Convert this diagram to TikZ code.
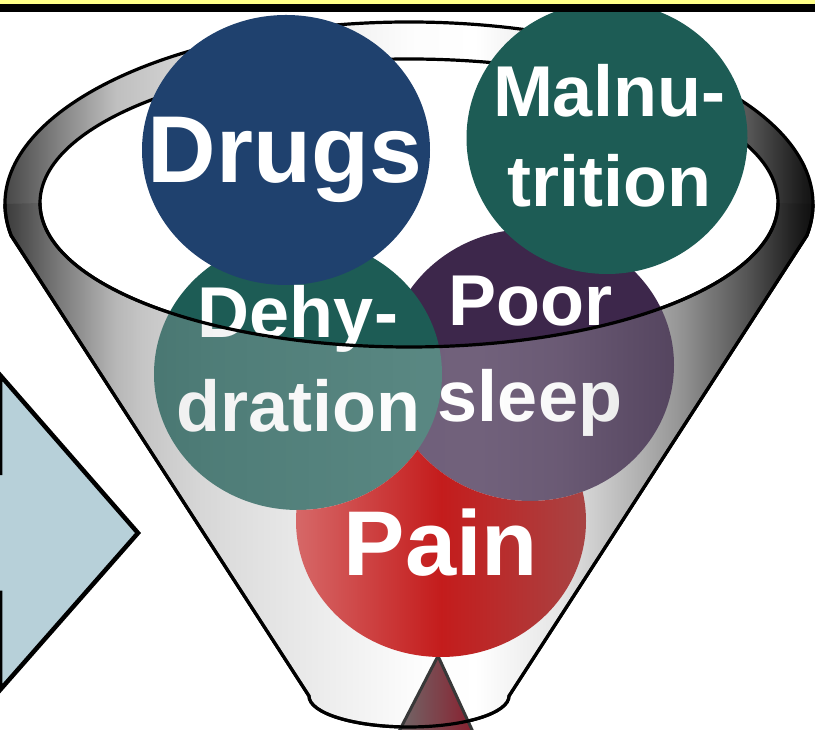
\documentclass[tikz,border=0pt]{standalone}
\usepackage{fontspec}
\setmainfont{Liberation Sans}
\usepackage{tikz}
\usetikzlibrary{shapes.geometric,calc,positioning}
\definecolor{drugblue}{HTML}{1F416E}
\definecolor{deepteal}{HTML}{1D5C55}
\definecolor{plumdark}{HTML}{3D274B}
\definecolor{painred}{HTML}{C41C1C}
\definecolor{painlite}{HTML}{D66868}
\definecolor{paindark}{HTML}{A84444}
\definecolor{skyarrow}{HTML}{B7D0D9}
\definecolor{baryellow}{HTML}{FFFF88}
\definecolor{tipred}{HTML}{8B1A2A}
\definecolor{tipgray}{HTML}{6E6E6E}
\definecolor{tipedge}{HTML}{383838}
\pgfdeclarehorizontalshading{funnelshade}{100bp}{%
  color(0bp)=(white!10!black); color(25bp)=(white!10!black);
  color(27.2bp)=(white!30!black); color(30.3bp)=(white!53!black);
  color(33.4bp)=(white!75!black); color(38.3bp)=(white!85!black);
  color(44.5bp)=(white!92!black); color(50.7bp)=(white!99!black);
  color(54.4bp)=(white); color(59.3bp)=(white!90!black);
  color(66.2bp)=(white!60!black); color(70.5bp)=(white!33!black);
  color(73.6bp)=(white!10!black); color(75bp)=(white!3!black);
  color(100bp)=(white!3!black)}
\tikzset{
  bubble/.style={ellipse, inner sep=0pt, minimum width=288pt, minimum height=272pt},
  word/.style={text=white, font=\bfseries\fontsize{72}{90}\selectfont, align=center, inner sep=0pt},
  bigword/.style={word, font=\bfseries\fontsize{95}{100}\selectfont},
  rim/.style={draw=black, line width=3.2pt},
  wall/.style={shading=funnelshade}
}
\begin{document}
\begin{tikzpicture}[x=1pt, y=1pt]
 \useasboundingbox (0,0) rectangle (815,730);
 \clip (0,0) rectangle (815,730);
 \coordinate (oc) at (409,526);
 \coordinate (ic) at (409,527);
 \coordinate (bc) at (409,34);
 % funnel, back half
 \shadedraw[wall, rim] ($(oc)+(190:404 and 182)$) arc[start angle=190, end angle=-10, x radius=404, y radius=182]
   -- ($(bc)+(0:100 and 31)$) arc[start angle=0, end angle=-180, x radius=100, y radius=31] -- cycle;
 \draw[rim, fill=white] (ic) ellipse[x radius=369, y radius=144];
 % causes
 \node[bubble, fill=plumdark] (sleep) at (530,365) {};
 \node[bubble, fill=deepteal] (dehy) at (298,356) {};
 \node[bubble, fill=drugblue, minimum height=270pt] (drugs) at (286,580) {};
 \node[bubble, fill=deepteal, minimum width=281pt] (malnu) at (607,592) {};
 \node[word, font=\bfseries\fontsize{72}{96}\selectfont] (sleepT) at (530,374) {Poor\\sleep};
 \node[word, font=\bfseries\fontsize{72}{94}\selectfont] (dehyT) at (298,371) {Dehy-\\dration};
 \node[bigword, anchor=base] (drugsT) at (285,547) {Drugs};
 \node[word] (malnuT) at (609,594) {Malnu-\\trition};
 % funnel, front wall
 \shade[wall, fill opacity=0.27] ($(oc)+(180:404 and 182)$) arc[start angle=180, end angle=190, x radius=404, y radius=182]
   -- ($(bc)+(180:100 and 31)$) arc[start angle=180, end angle=360, x radius=100, y radius=31]
   -- ($(oc)+(-10:404 and 182)$) arc[start angle=-10, end angle=0, x radius=404, y radius=182]
   -- ($(ic)+(0:369 and 144)$) arc[start angle=0, end angle=-180, x radius=369, y radius=144] -- cycle;
 \shadedraw[left color=tipgray, right color=tipred, draw=tipedge, line width=3pt, line join=round]
   (438,74) -- (392,-15) -- (479,-15) -- cycle;
 \begin{scope}
  \clip (0,0) -- (0,730) -- (815,730) -- (815,0) -- cycle (dehy.center) ellipse[x radius=144, y radius=136];
  \begin{scope}
   \clip (0,0) -- (0,730) -- (815,730) -- (815,0) -- cycle (sleep.center) ellipse[x radius=144, y radius=136];
   \node[bubble, minimum width=290pt, left color=painlite, right color=paindark, middle color=painred] (pain) at (441,209) {};
   \node[bigword, font=\bfseries\fontsize{92}{100}\selectfont, anchor=base] (painT) at (441,154) {Pain};
  \end{scope}
 \end{scope}
 \draw[rim] ($(oc)+(180:404 and 182)$) arc[start angle=180, end angle=190, x radius=404, y radius=182]
   -- ($(bc)+(180:100 and 31)$) arc[start angle=180, end angle=360, x radius=100, y radius=31]
   -- ($(oc)+(-10:404 and 182)$) arc[start angle=-10, end angle=0, x radius=404, y radius=182];
 \draw[rim] ($(ic)+(0:369 and 144)$) arc[start angle=0, end angle=-180, x radius=369, y radius=144];
 % arrow in from the left
 \draw[line width=4.5pt, fill=skyarrow, line join=miter] (-60,257) -- (0,257) -- (0,355) -- (138,197)
   -- (0,40) -- (0,137) -- (-60,137) -- cycle;
 % top bar
 \fill[baryellow] (0,726) rectangle (815,731);
 \fill[black] (0,718) rectangle (815,726);
\end{tikzpicture}
\end{document}
